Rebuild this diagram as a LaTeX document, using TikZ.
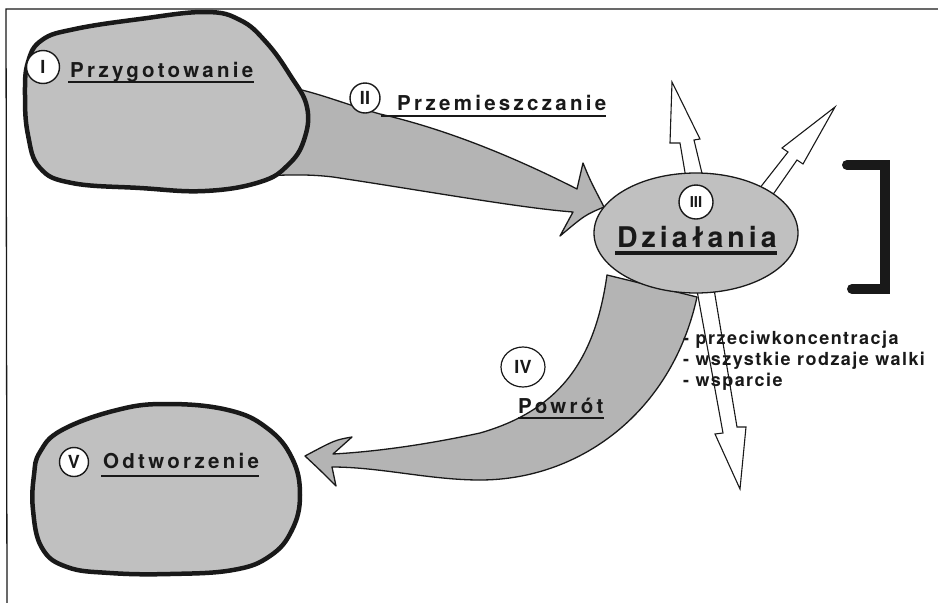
\documentclass[tikz,border=0pt]{standalone}
\usepackage{fontspec}
\setmainfont{TeX Gyre Heros}
\usetikzlibrary{shapes.geometric}
\definecolor{ink}{RGB}{25,25,25}
\definecolor{blobgray}{RGB}{192,192,192}
\definecolor{flowgray}{RGB}{180,180,180}
\tikzset{
  blob/.style={draw=ink, line width=4.5pt, fill=blobgray, line join=round},
  flow/.style={draw=ink, line width=1.3pt, fill=flowgray, line join=round},
  hollow/.style={draw=ink, line width=1.1pt, fill=white, line join=miter},
  numcirc/.style={circle, draw=ink, line width=1.4pt, fill=white, inner sep=0pt, minimum size=33pt, text=ink, font=\fontsize{18}{20}\selectfont\bfseries},
  phase/.style={inner sep=0pt, anchor=base west, text=ink, font=\fontsize{20.5}{23}\selectfont\bfseries\addfontfeature{LetterSpace=16}},
  uline/.style={draw=ink, line width=2.6pt},
  listitem/.style={inner sep=0pt, anchor=base west, text=ink, font=\fontsize{18}{20}\selectfont\bfseries\addfontfeature{LetterSpace=8}}
}
\begin{document}
\begin{tikzpicture}[x=1pt, y=-1pt]
    \useasboundingbox (0,0) rectangle (938,603);
    \draw[ink, line width=1.3pt] (938,9) -- (6,9) -- (7,603);

    \draw[flow] (607,275) .. controls (595,360) and (560,410) .. (480,433) .. controls (420,446) and (370,452) .. (333,454) -- (352,437) .. controls (335,440) .. (305,456) .. controls (320,470) .. (336,486) -- (332,467) .. controls (380,467) and (430,480) .. (480,480) .. controls (580,480) and (672,412) .. (697,297) -- cycle;
    \draw[hollow] (696,285) -- (723,433) -- (715,434) -- (740,489) -- (746,427) -- (737,427) -- (713,283) -- cycle;
    \draw[hollow] (688,190) -- (680,143) -- (670,143) -- (672,82) -- (700,139) -- (694,140) -- (706,190) -- cycle;
    \draw[hollow] (752,198) -- (788,152) -- (782,148) -- (835,107) -- (803,164) -- (797,160) -- (765,206) -- cycle;
    \draw[flow] (250,86) .. controls (290,80) and (330,100) .. (380,114) .. controls (450,130) and (520,160) .. (577,189) -- (583,163) .. controls (590,180) .. (604,207) .. controls (585,215) .. (560,236) -- (573,212) .. controls (520,208) and (420,190) .. (333,177) .. controls (300,173) and (275,176) .. (250,176) -- cycle;

    \draw[blob] plot[smooth cycle, tension=0.7] coordinates {(28,62) (42,40) (75,29) (140,19) (205,12) (240,20) (266,42) (290,75) (307,107) (304,140) (288,165) (260,182) (205,191) (140,188) (72,183) (40,168) (28,135) (25,95)};
    \draw[blob] plot[smooth cycle, tension=0.7] coordinates {(40,452) (62,430) (117,410) (167,404) (228,410) (267,428) (292,458) (300,495) (292,530) (270,556) (233,570) (170,574) (110,573) (67,567) (42,548) (33,510) (34,475)};
    \node[ellipse, draw=ink, line width=1.3pt, fill=blobgray, minimum width=204pt, minimum height=120pt, inner sep=0pt] (act) at (696,233) {};

    \draw[ink, line width=10pt, line cap=round, line join=miter] (847,165) -- (885,165) -- (885,289) -- (852,289);

    \node[numcirc] (n1) at (43,67) {I};
    \node[phase] (prep) at (70,77) {Przygotowanie};
    \draw[uline] ([xshift=-2pt, yshift=-5pt]prep.base west) -- ([yshift=-5pt]prep.base east);

    \node[numcirc, minimum size=30pt] (n2) at (365,98) {II};
    \node[phase] (move) at (397,110) {Przemieszczanie};
    \draw[uline] ([xshift=-16pt, yshift=-6pt]move.base west) -- ([yshift=-6pt]move.base east);

    \node[numcirc, minimum size=34pt, font=\fontsize{15}{17}\selectfont\bfseries] (n3) at (696,202) {III};
    \node[phase, font=\fontsize{28.5}{32}\selectfont\bfseries\addfontfeature{LetterSpace=14}] (acttext) at (617,247) {Działania};
    \draw[uline, line width=3.5pt] ([xshift=-2pt, yshift=-6pt]acttext.base west) -- ([yshift=-6pt]acttext.base east);

    \node[ellipse, draw=ink, line width=1.2pt, minimum width=44pt, minimum height=40pt, inner sep=0pt, text=ink, font=\fontsize{18}{20}\selectfont\bfseries] (n4) at (523,367) {IV};
    \node[phase] (back) at (518,413) {Powrót};
    \draw[uline] ([yshift=-5pt]back.base west) -- ([yshift=-5pt]back.base east);

    \node[numcirc, minimum size=29pt] (n5) at (74,462) {V};
    \node[phase] (rest) at (103,468) {Odtworzenie};
    \draw[uline] ([xshift=-2pt, yshift=-8pt]rest.base west) -- ([yshift=-8pt]rest.base east);

    \node[listitem] (l1) at (683,344) {- przeciwkoncentracja};
    \node[listitem] (l2) at (683,365) {- wszystkie rodzaje walki};
    \node[listitem] (l3) at (683,386) {- wsparcie};
\end{tikzpicture}
\end{document}
